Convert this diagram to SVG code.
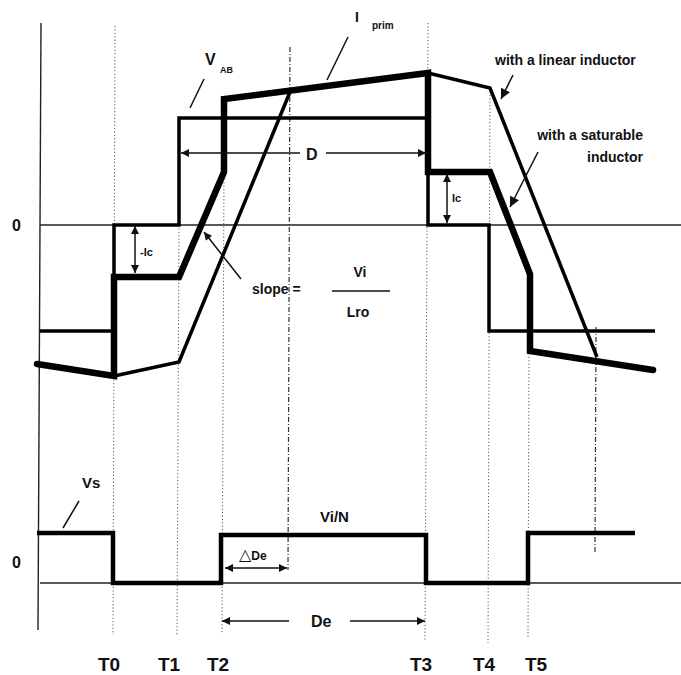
<svg xmlns="http://www.w3.org/2000/svg" width="681" height="675" viewBox="0 0 681 675">
<defs>
<style>
.t{font-family:"Liberation Sans",Arial,sans-serif;font-weight:bold;fill:#111}
.axis{stroke:#222;stroke-width:1.4;fill:none}
.dot{stroke:#555;stroke-width:1;stroke-dasharray:1.2,2.2;fill:none}
.dd{stroke:#333;stroke-width:1.2;stroke-dasharray:5,2,1,2;fill:none}
.med{stroke:#000;stroke-width:3.5;fill:none;stroke-linejoin:miter}
.thick{stroke:#000;stroke-width:6.5;fill:none;stroke-linejoin:miter;stroke-linecap:round}
.vs{stroke:#000;stroke-width:4.5;fill:none;stroke-linejoin:miter}
.lead{stroke:#111;stroke-width:1.5;fill:none}
.arr{stroke:#111;stroke-width:1.5;fill:none}
</style>
<marker id="ah" viewBox="0 0 10 10" refX="10" refY="5" markerWidth="10" markerHeight="8" markerUnits="userSpaceOnUse" orient="auto-start-reverse">
<path d="M0,0 L10,5 L0,10 Z" fill="#111"/>
</marker>
<marker id="big" viewBox="0 0 10 10" refX="10" refY="5" markerWidth="15" markerHeight="10" markerUnits="userSpaceOnUse" orient="auto">
<path d="M0,0 L10,5 L0,10 Z" fill="#111"/>
</marker>
</defs>

<g id="axes">
<line class="axis" x1="41" y1="23" x2="38" y2="630"/>
<line class="axis" x1="40" y1="225" x2="681" y2="225"/>
<line class="axis" x1="40" y1="583" x2="681" y2="583"/>
</g>

<g id="time-markers">
<line class="dot" x1="115" y1="26" x2="113" y2="635"/>
<line class="dot" x1="179" y1="225" x2="177" y2="635"/>
<line class="dot" x1="224" y1="172" x2="222" y2="633"/>
<line class="dd" x1="290" y1="47" x2="288" y2="570"/>
<line class="dot" x1="428" y1="23" x2="425" y2="640"/>
<line class="dot" x1="490" y1="88" x2="488" y2="643"/>
<line class="dot" x1="529" y1="350" x2="528" y2="637"/>
<line class="dd" x1="596" y1="327" x2="595" y2="553"/>
</g>

<g id="v-ab">
<path class="med" d="M40,331 H114 V225 H179 V118 H428 V225 H489 V331 H655"/>
</g>

<g id="i-prim-linear">
<path class="med" d="M114,376 L179,362 L290,92 M428,73 L490,88 L597,357"/>
</g>

<g id="i-prim-saturable">
<path class="thick" d="M37,364 L114,376 V277 H179 L224,172 V99 L428,73 V172 H490 L530,274 V351 L653,370"/>
</g>

<g id="vs">
<path class="vs" d="M37,533 H113 V583 H221 V535 H426 V583 H528 V533 H635"/>
</g>

<g id="connectors">
<line class="lead" x1="204" y1="79" x2="190" y2="108"/>
<line class="lead" x1="348" y1="37" x2="327" y2="80"/>
<line class="lead" x1="79" y1="501" x2="63" y2="528"/>
<line class="arr" x1="513" y1="75" x2="501" y2="99" marker-end="url(#big)"/>
<line class="arr" x1="538" y1="152" x2="510" y2="207" marker-end="url(#big)"/>
<line class="arr" x1="241" y1="279" x2="204" y2="232" marker-end="url(#ah)"/>
<line class="arr" x1="300" y1="153" x2="181" y2="153" marker-end="url(#ah)"/>
<line class="arr" x1="326" y1="153" x2="426" y2="153" marker-end="url(#ah)"/>
<line class="arr" x1="447" y1="174" x2="447" y2="223" marker-start="url(#ah)" marker-end="url(#ah)"/>
<line class="arr" x1="135" y1="226" x2="135" y2="273" marker-start="url(#ah)" marker-end="url(#ah)"/>
<line class="arr" x1="225" y1="568" x2="287" y2="568" marker-start="url(#ah)" marker-end="url(#ah)"/>
<line class="arr" x1="289" y1="621" x2="222" y2="621" marker-end="url(#ah)"/>
<line class="arr" x1="350" y1="621" x2="425" y2="621" marker-end="url(#ah)"/>
<line class="lead" x1="332" y1="291" x2="390" y2="291"/>
</g>

<g id="labels">
<text class="t" x="12" y="231" font-size="16">0</text>
<text class="t" x="12" y="568" font-size="16">0</text>
<text class="t" x="205" y="65" font-size="16">V</text>
<text class="t" x="220" y="73" font-size="9">AB</text>
<text class="t" x="355" y="22" font-size="14">I</text>
<text class="t" x="372" y="29" font-size="10">prim</text>
<text class="t" x="495" y="65" font-size="14">with a linear inductor</text>
<text class="t" x="643" y="140" font-size="14" text-anchor="end">with a saturable</text>
<text class="t" x="643" y="162" font-size="14" text-anchor="end">inductor</text>
<text class="t" x="306" y="160" font-size="16">D</text>
<text class="t" x="452" y="202" font-size="11">Ic</text>
<text class="t" x="140" y="256" font-size="11">-Ic</text>
<text class="t" x="252" y="294" font-size="14">slope =</text>
<text class="t" x="360" y="277" font-size="14" text-anchor="middle">Vi</text>
<text class="t" x="358" y="317" font-size="14" text-anchor="middle">Lro</text>
<text class="t" x="82" y="488" font-size="15">Vs</text>
<text class="t" x="320" y="522" font-size="15">Vi/N</text>
<text class="t" x="239" y="560" font-size="12"><tspan font-family="'DejaVu Sans',sans-serif" font-weight="normal" font-size="16">△</tspan>De</text>
<text class="t" x="311" y="627" font-size="16">De</text>
<text class="t" x="98" y="671" font-size="19">T0</text>
<text class="t" x="158" y="671" font-size="19">T1</text>
<text class="t" x="207" y="671" font-size="19">T2</text>
<text class="t" x="410" y="671" font-size="19">T3</text>
<text class="t" x="473" y="671" font-size="19">T4</text>
<text class="t" x="525" y="671" font-size="19">T5</text>
</g>
</svg>
